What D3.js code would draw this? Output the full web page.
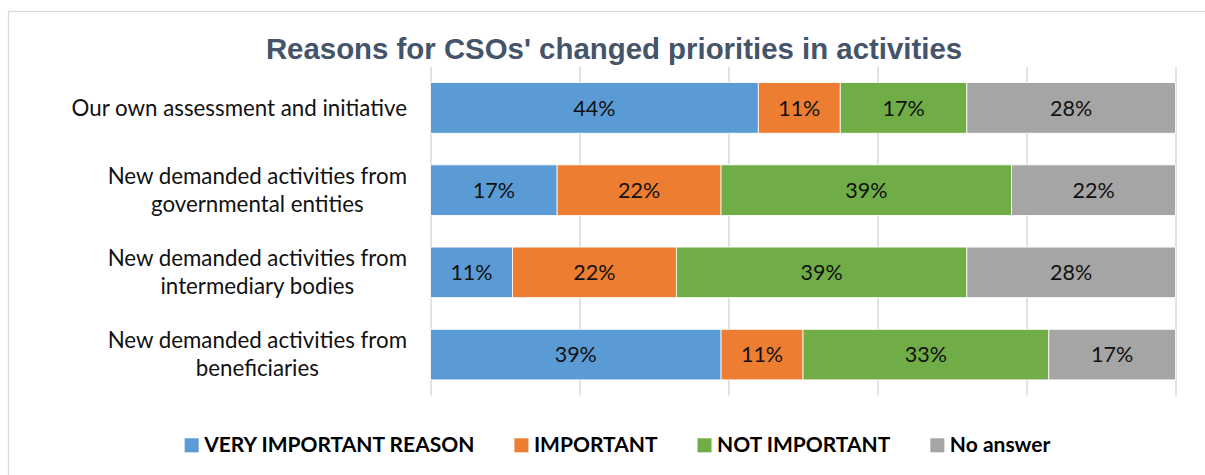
<!DOCTYPE html>
<html>
<head>
<meta charset="utf-8">
<script src="https://cdn.jsdelivr.net/npm/d3@7"></script>
<style>
  html, body { margin: 0; padding: 0; background: #fff; }
  svg { display: block; }
</style>
</head>
<body>
<svg id="chart" width="1205" height="475"></svg>
<script>
// Survey answers per reason, in percent of respondents
const categories = [
  "Our own assessment and initiative",
  "New demanded activities from governmental entities",
  "New demanded activities from intermediary bodies",
  "New demanded activities from beneficiaries"
];
const seriesNames = ["VERY IMPORTANT REASON", "IMPORTANT", "NOT IMPORTANT", "No answer"];
const veryImportant = [44, 17, 11, 39];
const important     = [11, 22, 22, 11];
const notImportant  = [17, 39, 39, 33];
const noAnswer      = [28, 22, 28, 17];
const xTickValues   = [0, 20, 40, 60, 80, 100];

const colors = ["#5B9BD5", "#ED7D31", "#70AD47", "#A5A5A5"];
const labelFont = "Lato, 'Open Sans', sans-serif";

const rows = categories.map((c, i) => ({
  category: c,
  "VERY IMPORTANT REASON": veryImportant[i],
  "IMPORTANT": important[i],
  "NOT IMPORTANT": notImportant[i],
  "No answer": noAnswer[i]
}));

const svg = d3.select("#chart");

// outer chart frame
svg.append("rect")
  .attr("x", 8.5).attr("y", 11.5)
  .attr("width", 1300).attr("height", 600)
  .attr("fill", "#fff").attr("stroke", "#D9D9D9").attr("stroke-width", 1.3);

const plot = { left: 430.5, right: 1175.5, top: 67, bottom: 395.5 };

const x = d3.scaleLinear().domain([0, 100]).range([plot.left, plot.right]);
const y = d3.scaleBand().domain(categories).range([plot.top, plot.bottom])
  .paddingInner(0.385).paddingOuter(0.19);

// title
svg.append("text")
  .attr("x", 614).attr("y", 59.3)
  .attr("text-anchor", "middle")
  .attr("font-family", "'Liberation Sans', Arial, sans-serif")
  .attr("font-weight", "bold")
  .attr("font-size", 29.4)
  .attr("fill", "#44546A")
  .text("Reasons for CSOs' changed priorities in activities");

// vertical gridlines
const grid = svg.append("g")
  .attr("transform", `translate(0,${plot.bottom})`)
  .call(d3.axisBottom(x).tickValues(xTickValues).tickSize(-(plot.bottom - plot.top)).tickFormat(""));
grid.select(".domain").remove();
grid.selectAll(".tick line").attr("stroke", "#D9D9D9").attr("stroke-width", 1.5);

// stacked bars
const stack = d3.stack().keys(seriesNames)(rows);
const layers = svg.append("g").selectAll("g")
  .data(stack).join("g")
  .attr("fill", (d, i) => colors[i]);

layers.selectAll("rect")
  .data(d => d).join("rect")
  .attr("x", d => x(d[0]))
  .attr("y", d => y(d.data.category))
  .attr("width", d => x(d[1]) - x(d[0]))
  .attr("height", y.bandwidth())
  .attr("stroke", "#fff").attr("stroke-width", 0.8);

// value labels
layers.selectAll("text")
  .data(d => d).join("text")
  .attr("x", d => (x(d[0]) + x(d[1])) / 2)
  .attr("y", d => y(d.data.category) + y.bandwidth() / 2)
  .attr("dy", "0.36em")
  .attr("text-anchor", "middle")
  .attr("font-family", labelFont)
  .attr("font-size", 21.5)
  .attr("fill", "#111")
  .text(d => `${d[1] - d[0]}%`);

// category labels, wrapped to fit the label column
const catG = svg.append("g");
const maxLabelWidth = 345;
const lineHeight = 28;
categories.forEach(c => {
  const t = catG.append("text")
    .attr("text-anchor", "middle")
    .attr("font-family", labelFont)
    .attr("font-size", 22.3)
    .attr("fill", "#111");
  const words = c.split(" ");
  const lines = [];
  let cur = [];
  const probe = t.append("tspan");
  words.forEach(w => {
    cur.push(w);
    probe.text(cur.join(" "));
    if (probe.node().getComputedTextLength() > maxLabelWidth && cur.length > 1) {
      cur.pop();
      lines.push(cur.join(" "));
      cur = [w];
    }
  });
  lines.push(cur.join(" "));
  probe.remove();
  const cy = y(c) + y.bandwidth() / 2;
  const widths = [];
  lines.forEach(ln => {
    const ts = t.append("tspan").text(ln);
    widths.push(ts.node().getComputedTextLength());
  });
  const blockW = d3.max(widths);
  const cx = 407 - blockW / 2;
  const firstBaseline = cy + 7.8 - (lines.length - 1) * lineHeight / 2;
  t.selectAll("tspan")
    .attr("x", cx)
    .attr("y", (d, i) => firstBaseline + i * lineHeight);
});

// legend
const legend = svg.append("g");
const sq = 14, sqGap = 5.5, itemGap = 40;
const items = seriesNames.map((name, i) => {
  const g = legend.append("g");
  g.append("rect").attr("width", sq).attr("height", sq).attr("y", 438.3).attr("fill", colors[i]);
  const t = g.append("text")
    .attr("x", sq + sqGap).attr("y", 452.3)
    .attr("font-family", labelFont)
    .attr("font-weight", "bold")
    .attr("font-size", 21)
    .attr("fill", "#000")
    .text(name);
  return { g, w: sq + sqGap + t.node().getComputedTextLength() };
});
const totalW = d3.sum(items, d => d.w) + itemGap * (items.length - 1);
let lx = 617.5 - totalW / 2;
items.forEach(it => {
  it.g.attr("transform", `translate(${lx},0)`);
  lx += it.w + itemGap;
});
</script>
</body>
</html>
